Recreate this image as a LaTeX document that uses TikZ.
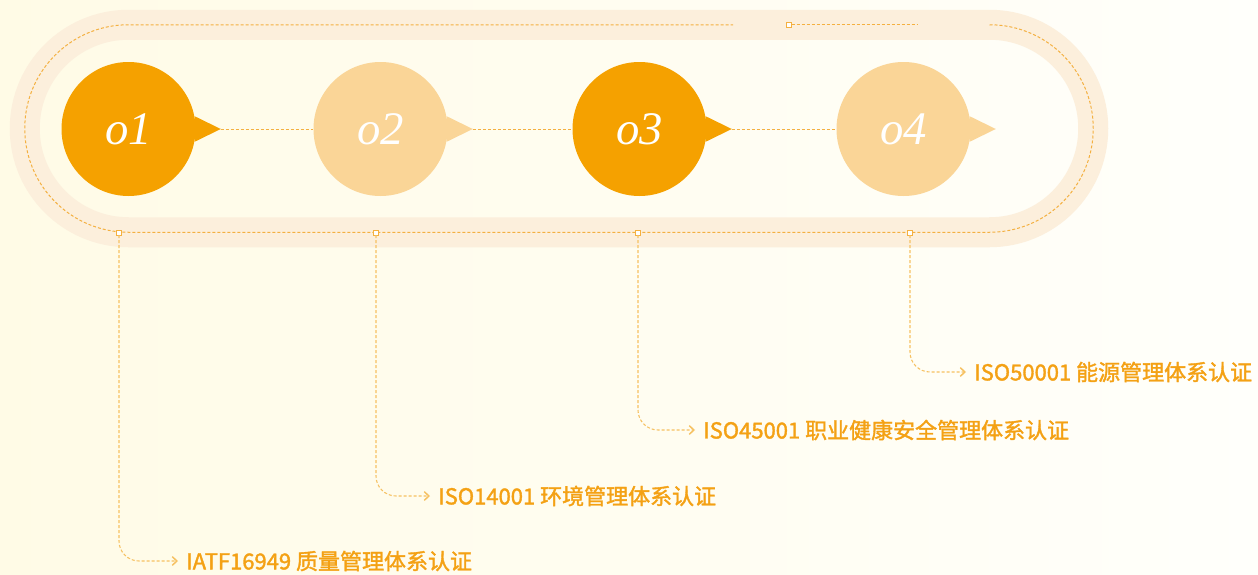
\documentclass[tikz,border=0pt]{standalone}
\usepackage{fontspec}
\setmainfont{Liberation Serif}
\newfontfamily\cjk{Noto Sans CJK SC}[FakeBold=1.6]
\usetikzlibrary{arrows.meta}
\definecolor{bgA}{HTML}{FFFBE6}
\definecolor{bgB}{HTML}{FFFFFB}
\definecolor{band}{HTML}{FCEFDC}
\definecolor{dark}{HTML}{F5A100}
\definecolor{light}{HTML}{FAD597}
\definecolor{dashc}{HTML}{F4B040}
\definecolor{connc}{HTML}{F6C162}
\definecolor{txtc}{HTML}{F4A114}
\tikzset{
  dline/.style={draw=dashc, line width=0.75pt, dash pattern=on 2.25pt off 1.5pt},
  conn/.style={draw=connc, line width=0.8pt, dash pattern=on 2.25pt off 1.5pt, rounded corners=15pt, shorten >=6pt, -{Straight Barb[length=3.5pt,width=6.5pt,line width=1.1pt]}},
  sq/.style={draw=dashc, fill=white, line width=0.75pt, minimum size=3.75pt, inner sep=0pt, outer sep=0pt},
  circ/.style={circle, minimum size=100.5pt, inner sep=0pt, text=white, font=\fontsize{35}{35}\selectfont\itshape},
  lbl/.style={anchor=west, inner sep=0pt, text=txtc, font=\cjk\fontsize{16.5}{19}\selectfont}
}
\begin{document}
\begin{tikzpicture}[x=0.75pt,y=-0.75pt]
\path[use as bounding box, left color=bgA, right color=bgB] (0,0) rectangle (1258,575);
% band
\draw[band, line width=22.5pt] (128.5,24.75) -- (989.5,24.75) arc[start angle=-90,end angle=90,radius=103.75] -- (128.5,232.25) arc[start angle=90,end angle=270,radius=103.75] -- cycle;
% dashed track
\draw[dline] (989.5,24.75) arc[start angle=-90,end angle=90,radius=103.75] -- (128.5,232.25) arc[start angle=90,end angle=270,radius=103.75] -- (733,24.75);
\node[sq] (s0) at (789,24.75) {};
\coordinate (e0) at (918,24.75);
\draw[dline] (s0.east) -- (e0);
% squares on bottom
\node[sq] (s1) at (119,232.5) {};
\node[sq] (s2) at (376,232.5) {};
\node[sq] (s3) at (638,232.5) {};
\node[sq] (s4) at (910,232.5) {};
% labels
\node[lbl] (l1) at (186,561) {IATF16949 质量管理体系认证};
\node[lbl] (l2) at (438,496) {ISO14001 环境管理体系认证};
\node[lbl] (l3) at (703,430) {ISO45001 职业健康安全管理体系认证};
\node[lbl] (l4) at (974,372) {ISO50001 能源管理体系认证};
\draw[conn] (s1.south) |- (l1.west);
\draw[conn] (s2.south) |- (l2.west);
\draw[conn] (s3.south) |- (l3.west);
\draw[conn] (s4.south) |- (l4.west);
% circles
\node[circ, fill=dark] (c1) at (128.5,129) {o1};
\node[circ, fill=light] (c2) at (380.5,129) {o2};
\node[circ, fill=dark] (c3) at (639.5,129) {o3};
\node[circ, fill=light] (c4) at (903.5,129) {o4};
\foreach \i/\c in {1/dark,2/light,3/dark,4/light}{
  \coordinate (t\i) at ([xshift=18.75pt]c\i.east);
  \fill[\c] (c\i.11) -- (t\i) -- (c\i.-11) -- cycle;
}
\draw[dline] (t1) -- (c2.west);
\draw[dline] (t2) -- (c3.west);
\draw[dline] (t3) -- (c4.west);
\end{tikzpicture}
\end{document}
